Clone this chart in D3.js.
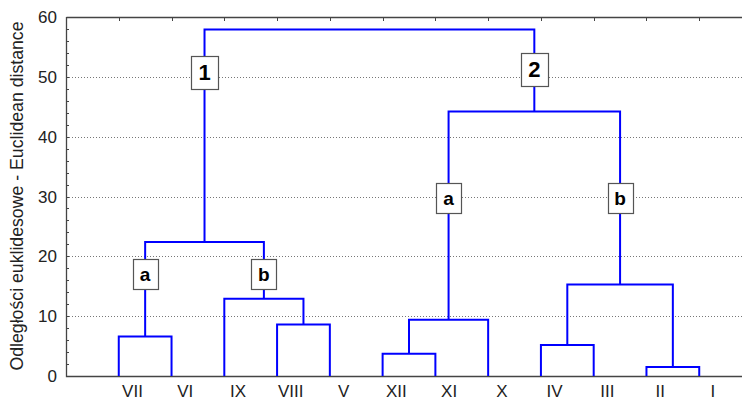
<!DOCTYPE html>
<html><head><meta charset="utf-8">
<script src="https://cdn.jsdelivr.net/npm/d3@7"></script>
<style>body{margin:0;background:#fff}svg{display:block}text{font-family:"Liberation Sans",Arial,sans-serif}</style>
</head><body><svg id="c" width="742" height="400"></svg>
<script>
// ---- data ----
const leaves = ["VII","VI","IX","VIII","V","XII","XI","X","IV","III","II","I"];
// linkage: [childA, childB, height]; leaves are 0..11, merges numbered from 12
const mergeA = [0, 3, 2, 12, 5, 16, 8, 10, 18, 17, 15];
const mergeB = [1, 4, 13, 14, 6, 7, 9, 11, 19, 20, 21];
const mergeH = [6.6, 8.6, 12.9, 22.4, 3.7, 9.4, 5.2, 1.5, 15.3, 44.2, 57.9];
const boxText = ["1","2","a","b","a","b"];
const boxNode = [15, 21, 12, 14, 17, 20];
const boxValue = [50.8, 51.3, 17.1, 17.1, 29.7, 29.7];
const yTicks = [0,10,20,30,40,50,60];
const yTitle = "Odległości euklidesowe - Euclidean distance";

// ---- layout ----
const svg = d3.select("#c");
const L = 66, T = 17, B = 376, R = 752;
const x = d3.scaleLinear().domain([0, 13]).range([L, R]);
const y = d3.scaleLinear().domain([0, 60]).range([B, T]);

// node positions
const nx = leaves.map((d,i)=>x(i+1));
const nh = leaves.map(()=>0);
mergeH.forEach((h,k)=>{ nx.push((nx[mergeA[k]]+nx[mergeB[k]])/2); nh.push(h); });

// gridlines
svg.append("g").selectAll("line").data(yTicks.filter(d=>d>0&&d<60)).join("line")
  .attr("x1", L).attr("x2", 742).attr("y1", d=>Math.round(y(d))+0.5).attr("y2", d=>Math.round(y(d))+0.5)
  .attr("stroke", "#777").attr("stroke-width", 1).attr("stroke-dasharray", "1,2");

// frame
const frame = svg.append("g").attr("stroke", "#444").attr("stroke-width", 1.3).attr("fill","none");
frame.append("path").attr("d", `M${L+0.5},${T+0.5}H742M${L+0.5},${T}V${B+0.5}H742`);
// minor ticks left (inward)
frame.selectAll("line.m").data(d3.range(0, 61, 2)).join("line")
  .attr("x1", L).attr("x2", L+3).attr("y1", d=>Math.round(y(d))+0.5).attr("y2", d=>Math.round(y(d))+0.5)
  .attr("stroke-width", 1);
// top ticks (inward)
frame.selectAll("line.t").data(leaves).join("line")
  .attr("x1", (d,i)=>Math.round(x(i+1))+0.5).attr("x2", (d,i)=>Math.round(x(i+1))+0.5)
  .attr("y1", T).attr("y2", T+4).attr("stroke-width", 1);

// dendrogram links
const paths = mergeH.map((h,k)=>{
  const a = mergeA[k], b = mergeB[k];
  return `M${nx[a]},${y(nh[a])}V${y(h)}H${nx[b]}V${y(nh[b])}`;
});
svg.append("g").selectAll("path").data(paths).join("path")
  .attr("d", d=>d).attr("fill","none").attr("stroke","#0000ff").attr("stroke-width",2);

// y tick labels
svg.append("g").selectAll("text").data(yTicks).join("text")
  .attr("x", 57).attr("y", d=>y(d)).attr("dy","0.36em").attr("text-anchor","end")
  .attr("font-size", 17).attr("fill","#222").text(d=>d);

// x labels
svg.append("g").selectAll("text").data(leaves).join("text")
  .attr("x", (d,i)=>x(i+1.26)).attr("y", 397).attr("text-anchor","middle")
  .attr("font-size", 17).attr("fill","#222").text(d=>d);

// y title
svg.append("text").attr("transform", `translate(23,196) rotate(-90)`)
  .attr("text-anchor","middle").attr("font-size", 17.7).attr("fill","#222").text(yTitle);

// boxes
const bx = svg.append("g");
boxText.forEach((t,i)=>{
  const big = /\d/.test(t);
  const w = big ? 27 : 25, h = big ? 33 : 30;
  const cx = nx[boxNode[i]], cy = y(boxValue[i]);
  bx.append("rect").attr("x", Math.round(cx - w/2)+0.5).attr("y", Math.round(cy - h/2)+0.5)
    .attr("width", w).attr("height", h).attr("fill","#fff").attr("stroke","#555").attr("stroke-width",1.2);
  bx.append("text").attr("x", cx).attr("y", cy).attr("dy","0.36em").attr("text-anchor","middle")
    .attr("font-size", big ? 22 : 19).attr("font-weight","bold").attr("fill","#000").text(t);
});
</script></body></html>
